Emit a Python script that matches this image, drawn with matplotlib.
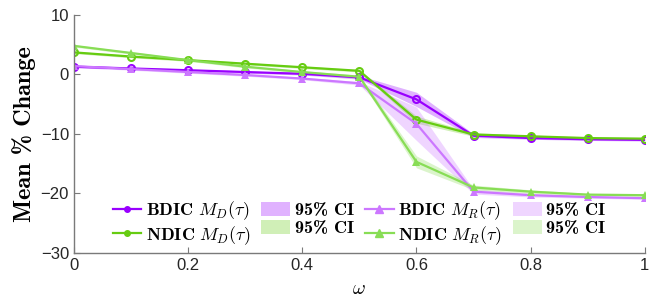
import matplotlib
matplotlib.use("Agg")
import matplotlib.pyplot as plt
import numpy as np
from matplotlib.patches import Patch
from matplotlib.lines import Line2D

plt.rcParams['mathtext.fontset'] = 'cm'
plt.rcParams['font.family'] = ['Liberation Sans', 'DejaVu Sans']

omega = [0.0, 0.1, 0.2, 0.3, 0.4, 0.5, 0.6, 0.7, 0.8, 0.9, 1.0]
bdic_md = [1.3, 1.0, 0.7, 0.4, 0.1, -0.5, -4.2, -10.3, -10.7, -10.9, -11.0]
bdic_md_ci = [0.2, 0.2, 0.2, 0.2, 0.2, 0.3, 1.2, 0.3, 0.2, 0.2, 0.2]
ndic_md = [3.7, 3.0, 2.4, 1.8, 1.2, 0.6, -7.6, -10.1, -10.4, -10.7, -10.8]
ndic_md_ci = [0.2, 0.2, 0.2, 0.2, 0.2, 0.2, 0.6, 0.3, 0.2, 0.2, 0.2]
bdic_mr = [1.4, 0.9, 0.4, -0.1, -0.7, -1.5, -8.3, -19.7, -20.3, -20.6, -20.8]
bdic_mr_ci = [0.2, 0.2, 0.2, 0.2, 0.2, 0.3, 2.8, 0.4, 0.3, 0.2, 0.2]
ndic_mr = [4.8, 3.6, 2.4, 1.3, 0.4, -0.4, -14.7, -19.0, -19.7, -20.2, -20.3]
ndic_mr_ci = [0.2, 0.2, 0.2, 0.2, 0.2, 0.3, 1.0, 0.4, 0.3, 0.2, 0.2]

c_bd = '#9900FF'
c_nd = '#66CC11'
c_bdr = '#CC77FF'
c_ndr = '#88DD55'

fig = plt.figure(figsize=(6.54, 3.04), dpi=100)
ax = fig.add_axes([0.113, 0.168, 0.873, 0.783])

x = np.array(omega)
series = [
    (bdic_md, bdic_md_ci, c_bd, 'o', 0.3),
    (ndic_md, ndic_md_ci, c_nd, 'o', 0.3),
    (bdic_mr, bdic_mr_ci, c_bdr, '^', 0.3),
    (ndic_mr, ndic_mr_ci, c_ndr, '^', 0.3),
]
for y, ci, c, m, a in series:
    y = np.array(y); ci = np.array(ci)
    ax.fill_between(x, y - ci, y + ci, color=c, alpha=a, lw=0)
for y, ci, c, m, a in series:
    if m == 'o':
        ax.plot(x, y, color=c, lw=1.6, marker='o', ms=5, mfc='none', mew=1.5)
    else:
        ax.plot(x, y, color=c, lw=1.6, marker='^', ms=6, mfc=c, mew=0)

ax.set_xlim(0, 1)
ax.set_ylim(-30, 10)
ax.set_xticks([0, 0.2, 0.4, 0.6, 0.8, 1.0])
ax.set_xticklabels(['0', '0.2', '0.4', '0.6', '0.8', '1'])
ax.set_yticks([-30, -20, -10, 0, 10])
for s in ['top', 'right']:
    ax.spines[s].set_visible(False)
for s in ['left', 'bottom']:
    ax.spines[s].set_color('#7a7a7a')
    ax.spines[s].set_linewidth(1.0)
ax.tick_params(direction='in', length=4, color='#7a7a7a', labelsize=12, labelcolor='#262626')
ax.set_xlabel(r'$\omega$', fontsize=14, labelpad=6)
ax.set_ylabel('Mean % Change', fontsize=17.5, labelpad=3, fontfamily='cmb10')

handles = [
    Line2D([], [], color=c_bd, lw=1.6, marker='o', ms=4, mfc=c_bd),
    Line2D([], [], color=c_nd, lw=1.6, marker='o', ms=4, mfc=c_nd),
    Patch(facecolor=c_bd, alpha=0.3, lw=0),
    Patch(facecolor=c_nd, alpha=0.3, lw=0),
    Line2D([], [], color=c_bdr, lw=1.6, marker='^', ms=6, mfc=c_bdr),
    Line2D([], [], color=c_ndr, lw=1.6, marker='^', ms=6, mfc=c_ndr),
    Patch(facecolor=c_bdr, alpha=0.3, lw=0),
    Patch(facecolor=c_ndr, alpha=0.3, lw=0),
]
ci_lab = '95% CI'
labels = [
    r'$\mathbf{BDIC}\ M_D(\tau)$', r'$\mathbf{NDIC}\ M_D(\tau)$',
    ci_lab, ci_lab,
    r'$\mathbf{BDIC}\ M_R(\tau)$', r'$\mathbf{NDIC}\ M_R(\tau)$',
    ci_lab, ci_lab,
]
leg = ax.legend(handles, labels, ncol=4, loc='lower right', bbox_to_anchor=(0.95, -0.02),
                frameon=False, fontsize=13, handlelength=1.6, handleheight=0.8,
                handletextpad=0.25, columnspacing=0.6, labelspacing=0.1, borderaxespad=0.2)
for t in leg.get_texts():
    if t.get_text() == ci_lab:
        t.set_fontfamily('cmb10')

fig.savefig('out.png', dpi=100)
